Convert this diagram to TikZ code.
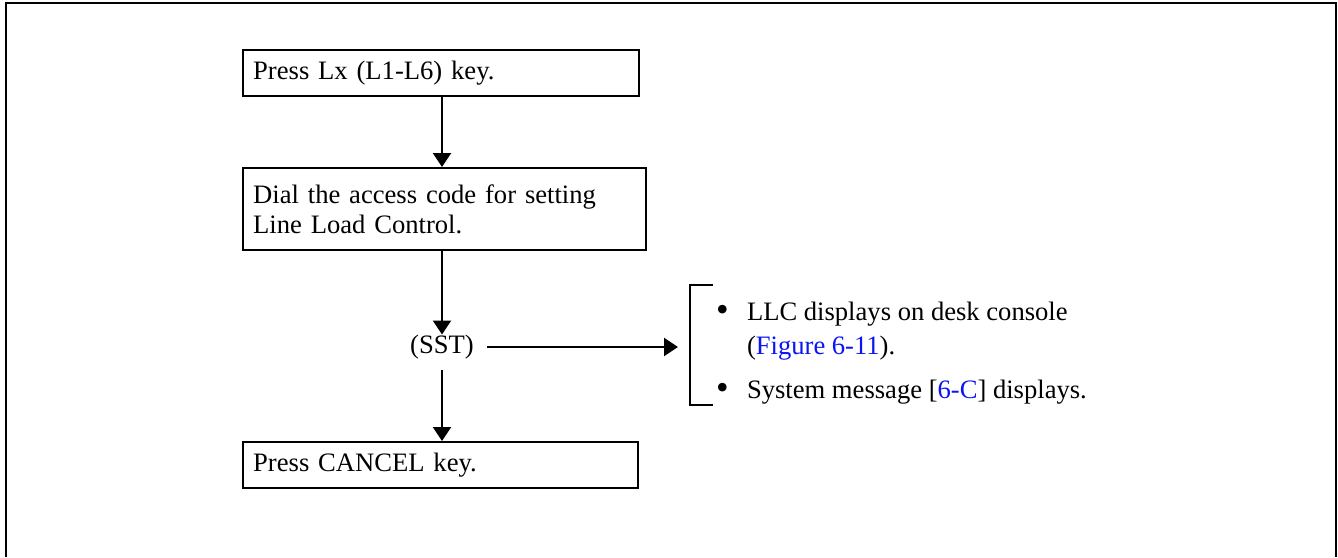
\documentclass[tikz,border=0pt]{standalone}
\usepackage{fontspec}
\setmainfont{Liberation Serif}
\usepackage{xcolor}
\usetikzlibrary{positioning, arrows.meta}
\definecolor{linkBlue}{RGB}{10,20,245}

\begin{document}
\begin{tikzpicture}[
  x=0.5pt, y=-0.5pt,
  every node/.style={font=\fontsize{13.3pt}{15pt}\selectfont},
  stepbox/.style={draw, line width=1.2pt, anchor=north west, inner xsep=5pt, inner ysep=0pt, align=left},
  arr/.style={line width=1.1pt, -{Triangle[length=7pt, width=9pt]}},
  frame/.style={line width=1.2pt},
]
  \useasboundingbox (0,0) rectangle (1338,557);
  \draw[frame] (6,557) |- (1336,3) -- (1336,557);

  % steps
  \node[stepbox, text width=188pt, minimum height=23pt] (lkey) at (242,49) {Press Lx (L1-L6) key.};
  \node[stepbox, text width=191.5pt, minimum height=41pt] (dial) at (242,167) {Dial the access code for setting\\Line Load Control.};
  \node[inner sep=0pt] (sst) at (442,347) {(SST)};
  \node[stepbox, text width=187.5pt, minimum height=23pt] (cancel) at (242,441) {Press CANCEL key.};

  % result list with bracket
  \renewcommand{\arraystretch}{1.12}
  \node[anchor=north west, inner xsep=13pt, inner ysep=0pt, outer sep=0pt, minimum height=60pt, align=left] (notes) at (690,285)
    {\begin{tabular}{@{}p{15.5pt}@{}l@{}}
      \noalign{\vspace{6pt}}
      \raisebox{-0.3pt}{\scalebox{1.35}{\textbullet}} & LLC displays on desk console\\
                  & (\textcolor{linkBlue}{Figure 6-11}).\\[5.5pt]
      \raisebox{-0.3pt}{\scalebox{1.35}{\textbullet}} & System message [\textcolor{linkBlue}{6-C}] displays.\\
      \noalign{\vspace{-2pt}}
     \end{tabular}};
  \draw[line width=1.2pt] ([xshift=11.5pt]notes.north west) -- (notes.north west) -- (notes.south west) -- ([xshift=11.5pt]notes.south west);

  % connectors
  \draw[arr] (lkey.south -| sst) -- (dial.north -| sst);
  \draw[arr] (dial.south -| sst) -- (sst.north);
  \draw[arr, shorten <=5.5pt] (sst.south) -- (cancel.north -| sst);
  \draw[arr, shorten <=6.5pt, shorten >=6pt] (sst.east) -- (sst.east -| notes.west);
\end{tikzpicture}
\end{document}
